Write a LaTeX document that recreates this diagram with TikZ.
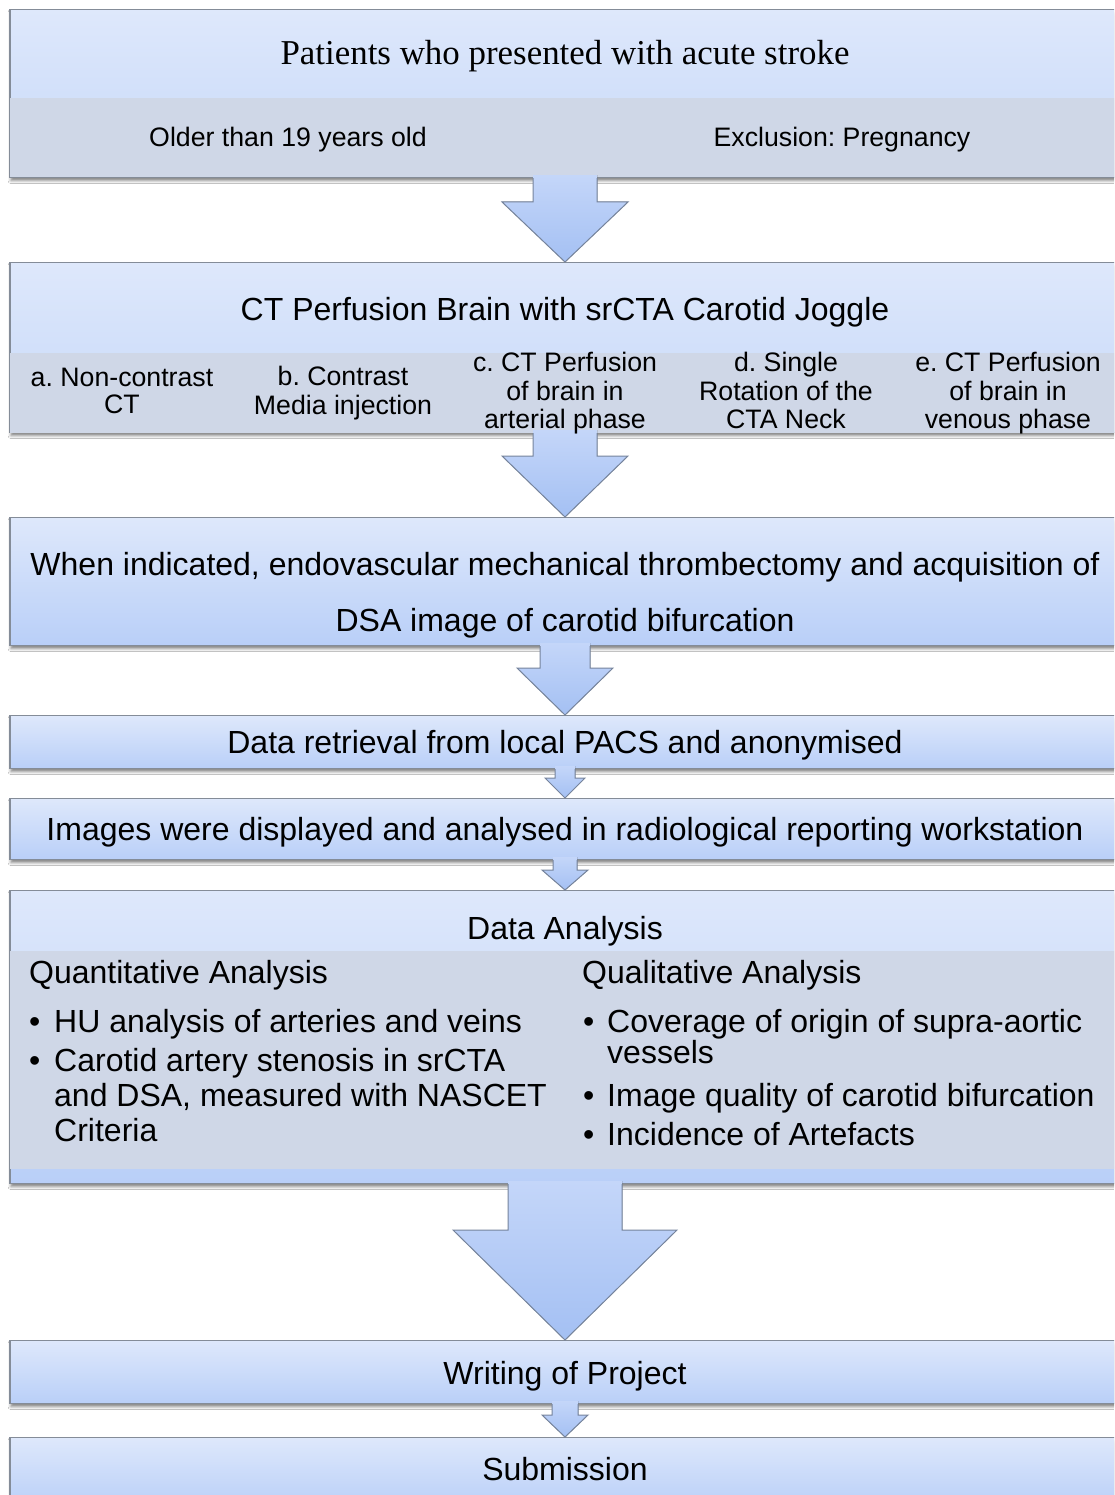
\documentclass[tikz,border=0pt]{standalone}
\usepackage{fontspec}
\setmainfont{Liberation Sans}
\newfontfamily\ttlserif{Liberation Serif}
\usetikzlibrary{calc,shadows.blur}
\frenchspacing

\definecolor{boxtop}{RGB}{222,232,251}
\definecolor{boxbot}{RGB}{185,207,248}
\definecolor{boxmid}{RGB}{198,216,249}
\definecolor{bandgray}{RGB}{207,215,231}
\definecolor{boxborder}{RGB}{132,140,152}
\definecolor{arrtop}{RGB}{196,214,249}
\definecolor{arrbot}{RGB}{164,192,243}
\definecolor{arrline}{RGB}{118,132,156}

\tikzset{
  box/.style={draw=boxborder, line width=1.1pt, top color=boxtop, bottom color=boxbot,
    minimum width=1110pt, anchor=north, inner sep=0pt,
    blur shadow={shadow xshift=1pt, shadow yshift=-3pt, shadow blur radius=3pt, shadow opacity=50}},
  bandbox/.style={box, bottom color=boxmid},
  band/.style={fill=bandgray},
  blockfill/.style={top color=arrtop, bottom color=arrbot},
  blockline/.style={draw=arrline, line width=1pt, line join=miter},
  bigtxt/.style={font=\fontsize{32}{36}\selectfont, anchor=base, inner sep=0pt},
  smalltxt/.style={font=\fontsize{26.7}{27.5}\selectfont, anchor=base, inner sep=0pt},
  rowtxt/.style={font=\fontsize{26.7}{27.5}\selectfont, align=center, inner sep=0pt, anchor=center},
  serifttl/.style={font=\ttlserif\fontsize{34.9}{40}\selectfont, anchor=base, inner sep=0pt},
  bullettxt/.style={font=\fontsize{32}{36}\selectfont, anchor=base west, inner sep=0pt},
}

% #1 from node, #2 to node, #3 shaft half width, #4 head half width, #5 head length
\newcommand{\blockarrow}[5]{%
  \fill[blockfill] ($(#1.south)+(-#3,3)$) -- ($(#1.south)+(#3,3)$) -- ($(#2.north)+(#3,#5)$)
    -- ($(#2.north)+(#4,#5)$) -- (#2.north) -- ($(#2.north)+(-#4,#5)$) -- ($(#2.north)+(-#3,#5)$) -- cycle;
  \draw[blockline] ($(#1.south)+(-#3,0)$) -- ($(#2.north)+(-#3,#5)$) -- ($(#2.north)+(-#4,#5)$)
    -- (#2.north) -- ($(#2.north)+(#4,#5)$) -- ($(#2.north)+(#3,#5)$) -- ($(#1.south)+(#3,0)$);
}

\begin{document}
\begin{tikzpicture}[x=1pt,y=1pt]
\useasboundingbox (0,0) rectangle (1114,-1495);
\clip (0,0) rectangle (1114,-1495);
\fill[white] (0,0) rectangle (1114,-1495);

% boxes
\node[bandbox, minimum height=168pt] (b1) at (565,-9) {};
\fill[band] ($(b1.south west)+(0.6,0.6)$) rectangle ($(b1.south east)+(-0.6,80)$);
\node[bandbox, minimum height=170pt] (b2) at (565,-262) {};
\fill[band] ($(b2.south west)+(0.6,0.6)$) rectangle ($(b2.south east)+(-0.6,80)$);
\node[box, minimum height=128pt] (b3) at (565,-517) {};
\node[box, minimum height=53pt] (b4) at (565,-715) {};
\node[box, minimum height=61pt] (b5) at (565,-798) {};
\node[box, minimum height=293pt] (b6) at (565,-890) {};
\fill[band] ($(b6.south west)+(0.6,15)$) rectangle ($(b6.south east)+(-0.6,233)$);
\node[box, minimum height=63pt] (b7) at (565,-1340) {};
\node[box, minimum height=70pt] (b8) at (565,-1437) {};

% block arrows
\blockarrow{b1}{b2}{32}{63}{60}
\blockarrow{b2}{b3}{32}{63}{61}
\blockarrow{b3}{b4}{25}{48}{47}
\blockarrow{b4}{b5}{10}{20}{20}
\blockarrow{b5}{b6}{12}{23}{20}
\blockarrow{b6}{b7}{57}{112}{110}
\blockarrow{b7}{b8}{13}{23}{22}

% texts
\node[serifttl] (t1) at (565,-65) {Patients who presented with acute stroke};
\node[smalltxt] (t1a) at (288,-147) {Older than 19 years old};
\node[smalltxt] (t1b) at (842,-147) {Exclusion: Pregnancy};

\node[bigtxt] (t2) at (565,-320) {CT Perfusion Brain with srCTA Carotid Joggle};
\node[rowtxt] (c1) at (122,-394.5) {\strut a. Non-contrast\\\strut CT};
\node[rowtxt] (c2) at (343,-394.5) {\strut b. Contrast\\\strut Media injection};
\node[rowtxt] (c3) at (565,-394.5) {\strut c. CT Perfusion\\\strut of brain in\\\strut arterial phase};
\node[rowtxt] (c4) at (786,-394.5) {\strut d. Single\\\strut Rotation of the\\\strut CTA Neck};
\node[rowtxt] (c5) at (1008,-394.5) {\strut e. CT Perfusion\\\strut of brain in\\\strut venous phase};

\node[bigtxt] (t3a) at (565,-575) {When indicated, endovascular mechanical thrombectomy and acquisition of};
\node[bigtxt] (t3b) at (565,-631) {DSA image of carotid bifurcation};

\node[bigtxt] (t4) at (565,-753) {Data retrieval from local PACS and anonymised};
\node[bigtxt] (t5) at (565,-840) {Images were displayed and analysed in radiological reporting workstation};

\node[bigtxt] (t6) at (565,-939) {Data Analysis};
\node[bullettxt] (qn) at (29,-983) {Quantitative Analysis};
\node[bullettxt] (ql) at (582,-983) {Qualitative Analysis};

\node[bullettxt] (qnb1) at (29,-1032) {•};
\node[bullettxt] (qn1) at (54,-1032) {HU analysis of arteries and veins};
\node[bullettxt] (qnb2) at (29,-1071) {•};
\node[bullettxt] (qn2a) at (54,-1071) {Carotid artery stenosis in srCTA};
\node[bullettxt] (qn2b) at (54,-1106) {and DSA, measured with NASCET};
\node[bullettxt] (qn2c) at (54,-1141) {Criteria};

\node[bullettxt] (qlb1) at (583,-1032) {•};
\node[bullettxt] (ql1a) at (607,-1032) {Coverage of origin of supra-aortic};
\node[bullettxt] (ql1b) at (607,-1063) {vessels};
\node[bullettxt] (qlb2) at (583,-1106) {•};
\node[bullettxt] (ql2) at (607,-1106) {Image quality of carotid bifurcation};
\node[bullettxt] (qlb3) at (583,-1145) {•};
\node[bullettxt] (ql3) at (607,-1145) {Incidence of Artefacts};

\node[bigtxt] (t7) at (565,-1384) {Writing of Project};
\node[bigtxt] (t8) at (565,-1480) {Submission};
\end{tikzpicture}
\end{document}
